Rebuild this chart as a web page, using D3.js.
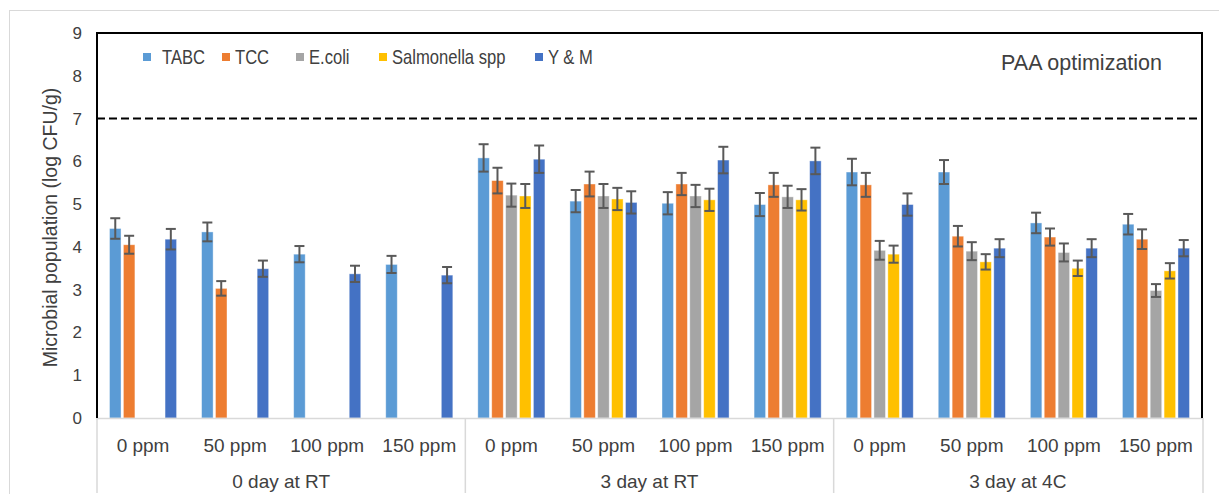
<!DOCTYPE html>
<html>
<head>
<meta charset="utf-8">
<script src="https://cdn.jsdelivr.net/npm/d3@7"></script>
<style>
  body { margin: 0; background: #fff; }
  text { font-family: "Liberation Sans", Arial, sans-serif; fill: #404040; }
</style>
</head>
<body>
<div id="chart"></div>
<script>
var categories = ["0 ppm", "50 ppm", "100 ppm", "150 ppm",
                  "0 ppm", "50 ppm", "100 ppm", "150 ppm",
                  "0 ppm", "50 ppm", "100 ppm", "150 ppm"];
var groups = ["0 day at RT", "3 day at RT", "3 day at 4C"];
var seriesNames = ["TABC", "TCC", "E.coli", "Salmonella spp", "Y & M"];
var seriesColors = ["#5B9BD5", "#ED7D31", "#A5A5A5", "#FFC000", "#4472C4"];
var yTicks = [0, 1, 2, 3, 4, 5, 6, 7, 8, 9];
var limitLine = 7;

var tabc      = [4.43, 4.35, 3.83, 3.59, 6.08, 5.07, 5.02, 4.99, 5.75, 5.75, 4.56, 4.53];
var tabcErr   = [0.24, 0.22, 0.19, 0.20, 0.32, 0.26, 0.26, 0.27, 0.31, 0.28, 0.24, 0.24];
var tcc       = [4.05, 3.03, null, null, 5.55, 5.47, 5.47, 5.45, 5.45, 4.25, 4.23, 4.18];
var tccErr    = [0.21, 0.17, null, null, 0.30, 0.29, 0.26, 0.28, 0.28, 0.24, 0.20, 0.23];
var ecoli     = [null, null, null, null, 5.21, 5.19, 5.19, 5.17, 3.92, 3.90, 3.87, 2.98];
var ecoliErr  = [null, null, null, null, 0.27, 0.28, 0.26, 0.26, 0.22, 0.21, 0.21, 0.15];
var salm      = [null, null, null, null, 5.19, 5.12, 5.10, 5.10, 3.83, 3.65, 3.50, 3.44];
var salmErr   = [null, null, null, null, 0.28, 0.26, 0.26, 0.25, 0.20, 0.18, 0.18, 0.18];
var ym        = [4.18, 3.49, 3.37, 3.34, 6.05, 5.04, 6.03, 6.01, 4.99, 3.97, 3.97, 3.97];
var ymErr     = [0.24, 0.19, 0.19, 0.19, 0.32, 0.26, 0.31, 0.31, 0.26, 0.21, 0.21, 0.19];

var seriesValues = [tabc, tcc, ecoli, salm, ym];
var seriesErrors = [tabcErr, tccErr, ecoliErr, salmErr, ymErr];

var width = 1219, height = 494;
var plotLeft = 97, plotRight = 1202, plotTop = 33, plotBottom = 418;

var svg = d3.select("#chart").append("svg")
    .attr("width", width).attr("height", height);

// faint outer frame
svg.append("rect")
    .attr("x", 9.5).attr("y", 10.5)
    .attr("width", 1300).attr("height", 600)
    .attr("fill", "none").attr("stroke", "#d9d9d9");

var y = d3.scaleLinear().domain([0, 9]).range([plotBottom, plotTop]);
var x = d3.scaleBand().domain(d3.range(categories.length)).range([plotLeft, plotRight]);
var xs = d3.scaleBand().domain(d3.range(seriesNames.length))
    .range([0, x.bandwidth()]).paddingInner(0.17).paddingOuter(0.9);

// flatten into rows
var rows = [];
seriesNames.forEach(function(name, s){
    categories.forEach(function(c, i){
        if (seriesValues[s][i] !== null) {
            rows.push({s: s, i: i, v: seriesValues[s][i], e: seriesErrors[s][i]});
        }
    });
});

svg.selectAll(".bar")
    .data(rows).enter().append("rect")
    .attr("class", "bar")
    .attr("x", function(d){ return x(d.i) + xs(d.s); })
    .attr("width", xs.bandwidth())
    .attr("y", function(d){ return y(d.v); })
    .attr("height", function(d){ return y(0) - y(d.v); })
    .attr("fill", function(d){ return seriesColors[d.s]; })
    .attr("stroke", "#fff").attr("stroke-opacity", 0.5).attr("stroke-width", 0.8);

// error bars
var eb = svg.selectAll(".err").data(rows).enter().append("g")
    .attr("stroke", "#595959").attr("stroke-width", 2);
function cx(d){ return x(d.i) + xs(d.s) + xs.bandwidth() / 2; }
eb.append("line")
    .attr("x1", cx).attr("x2", cx)
    .attr("y1", function(d){ return y(d.v + d.e); })
    .attr("y2", function(d){ return y(d.v - d.e); });
[1, -1].forEach(function(sign){
    eb.append("line")
        .attr("x1", function(d){ return cx(d) - 5; })
        .attr("x2", function(d){ return cx(d) + 5; })
        .attr("y1", function(d){ return y(d.v + sign * d.e); })
        .attr("y2", function(d){ return y(d.v + sign * d.e); });
});

// dashed limit line
svg.append("line")
    .attr("x1", plotLeft).attr("x2", plotRight)
    .attr("y1", y(limitLine)).attr("y2", y(limitLine))
    .attr("stroke", "#000").attr("stroke-width", 2)
    .attr("stroke-dasharray", "8,4");

// axes / frame
svg.append("line").attr("x1", plotLeft).attr("x2", plotRight + 1)
    .attr("y1", plotBottom + 0.5).attr("y2", plotBottom + 0.5)
    .attr("stroke", "#d9d9d9").attr("stroke-width", 1.5);
svg.append("path")
    .attr("d", "M" + plotLeft + "," + plotBottom + "V" + plotTop + "H" + plotRight + "V" + plotBottom)
    .attr("fill", "none").attr("stroke", "#000").attr("stroke-width", 2);

// y tick labels
svg.selectAll(".ytick").data(yTicks).enter().append("text")
    .attr("x", 82).attr("y", function(d){ return y(d); })
    .attr("dy", "0.35em").attr("text-anchor", "end")
    .style("font-size", "17px")
    .text(function(d){ return d; });

svg.append("text")
    .attr("transform", "translate(57," + ((plotTop + plotBottom) / 2 + 2) + ") rotate(-90)")
    .attr("text-anchor", "middle")
    .style("font-size", "19.5px")
    .text("Microbial population (log CFU/g)");

// category labels
svg.selectAll(".xtick").data(categories).enter().append("text")
    .attr("x", function(d, i){ return x(i) + x.bandwidth() / 2; })
    .attr("y", 445).attr("dy", "0.35em")
    .attr("text-anchor", "middle")
    .style("font-size", "19px")
    .text(function(d){ return d; });

var perGroup = categories.length / groups.length;
svg.selectAll(".group").data(groups).enter().append("text")
    .attr("x", function(d, g){ return (x(g * perGroup) + x((g + 1) * perGroup - 1) + x.bandwidth()) / 2; })
    .attr("y", 481).attr("dy", "0.35em")
    .attr("text-anchor", "middle")
    .style("font-size", "19px")
    .text(function(d){ return d; });

// group separators
svg.selectAll(".sep").data(d3.range(groups.length + 1)).enter().append("line")
    .attr("x1", function(g){ return g < groups.length ? x(g * perGroup) : plotRight + 1; })
    .attr("x2", function(g){ return g < groups.length ? x(g * perGroup) : plotRight + 1; })
    .attr("y1", plotBottom).attr("y2", 493)
    .attr("stroke", "#d9d9d9").attr("stroke-width", 1.5);

// legend
var legendX = [143, 222, 296, 379, 535];
var lg = svg.selectAll(".leg").data(seriesNames).enter().append("g")
    .attr("transform", function(d, i){ return "translate(" + legendX[i] + ",57)"; });
lg.append("rect").attr("x", 0).attr("y", -4).attr("width", 8).attr("height", 8)
    .attr("fill", function(d, i){ return seriesColors[i]; });
lg.append("text")
    .attr("transform", function(d, i){ return "translate(" + (i == 0 ? 19 : 13) + ",0) scale(0.83,1)"; })
    .attr("dy", "0.35em")
    .style("font-size", "20px")
    .text(function(d){ return d; });

svg.append("text")
    .attr("x", 1162).attr("y", 62).attr("dy", "0.35em")
    .attr("text-anchor", "end")
    .style("font-size", "21.5px")
    .text("PAA optimization");
</script>
</body>
</html>
